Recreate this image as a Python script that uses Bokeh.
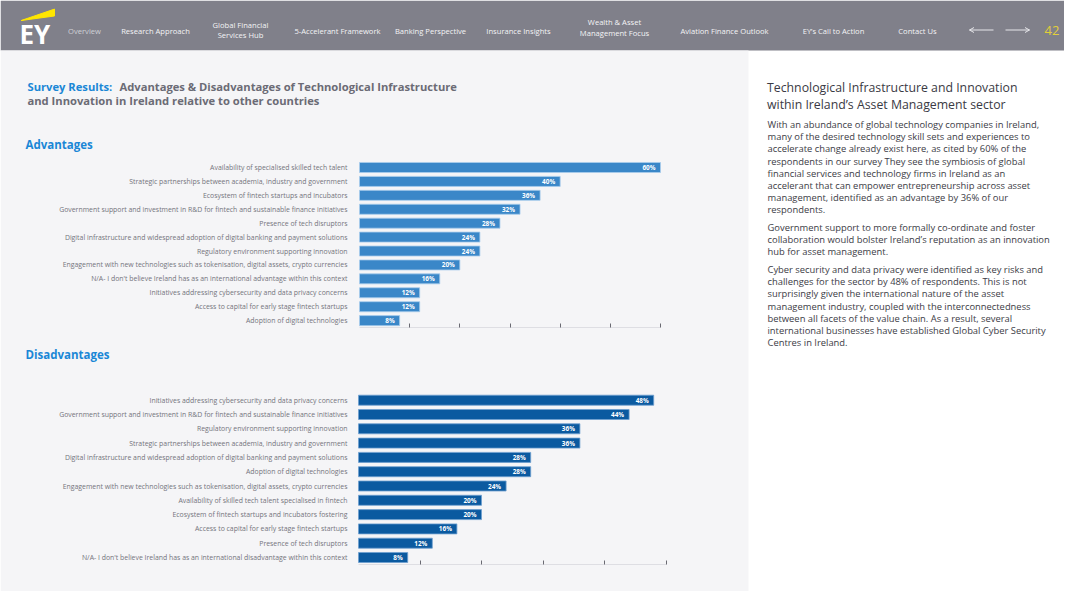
from bokeh.plotting import figure
from bokeh.models import Range1d, FixedTicker, ColumnDataSource, LinearAxis
from bokeh.core.properties import value
from bokeh.embed import file_html
from bokeh.resources import INLINE

FONT = "Open Sans"

# ---------------- data ----------------
adv_categories = [
    "Availability of specialised skilled tech talent",
    "Strategic partnerships between academia, industry and government",
    "Ecosystem of fintech startups and incubators",
    "Government support and investment in R&D for fintech and sustainable finance initiatives",
    "Presence of tech disruptors",
    "Digital infrastructure and widespread adoption of digital banking and payment solutions",
    "Regulatory environment supporting innovation",
    "Engagement with new technologies such as tokenisation, digital assets, crypto currencies",
    "N/A- I don't believe Ireland has as an international advantage within this context",
    "Initiatives addressing cybersecurity and data privacy concerns",
    "Access to capital for early stage fintech startups",
    "Adoption of digital technologies",
]
adv_values = [60, 40, 36, 32, 28, 24, 24, 20, 16, 12, 12, 8]

dis_categories = [
    "Initiatives addressing cybersecurity and data privacy concerns",
    "Government support and investment in R&D for fintech and sustainable finance initiatives",
    "Regulatory environment supporting innovation",
    "Strategic partnerships between academia, industry and government",
    "Digital infrastructure and widespread adoption of digital banking and payment solutions",
    "Adoption of digital technologies",
    "Engagement with new technologies such as tokenisation, digital assets, crypto currencies",
    "Availability of skilled tech talent specialised in fintech",
    "Ecosystem of fintech startups and incubators fostering",
    "Access to capital for early stage fintech startups",
    "Presence of tech disruptors",
    "N/A- I don't believe Ireland has as an international disadvantage within this context",
]
dis_values = [48, 44, 36, 36, 28, 28, 24, 20, 20, 16, 12, 8]

adv_ticks = [10, 20, 30, 40, 50, 60]
dis_ticks = [10, 20, 30, 40, 50]

nav_labels = [
    ["Overview"],
    ["Research Approach"],
    ["Global Financial", "Services Hub"],
    ["5-Accelerant Framework"],
    ["Banking Perspective"],
    ["Insurance Insights"],
    ["Wealth & Asset", "Management Focus"],
    ["Aviation Finance Outlook"],
    ["EY\u2019s Call to Action"],
    ["Contact Us"],
]
page_number = "42"

title_blue = "Survey Results:"
title_rest_1 = "Advantages & Disadvantages of Technological Infrastructure"
title_line_2 = "and Innovation in Ireland relative to other countries"
section_titles = ["Advantages", "Disadvantages"]

right_title = ["Technological Infrastructure and Innovation",
               "within Ireland\u2019s Asset Management sector"]
right_paragraphs = [
    ["With an abundance of global technology companies in Ireland,",
     "many of the desired technology skill sets and experiences to",
     "accelerate change already exist here, as cited by 60% of the",
     "respondents in our survey They see the symbiosis of global",
     "financial services and technology firms in Ireland as an",
     "accelerant that can empower entrepreneurship across asset",
     "management, identified as an advantage by 36% of our",
     "respondents."],
    ["Government support to more formally co-ordinate and foster",
     "collaboration would bolster Ireland\u2019s reputation as an innovation",
     "hub for asset management."],
    ["Cyber security and data privacy were identified as key risks and",
     "challenges for the sector by 48% of respondents. This is not",
     "surprisingly given the international nature of the asset",
     "management industry, coupled with the interconnectedness",
     "between all facets of the value chain.  As a result, several",
     "international businesses have established Global Cyber Security",
     "Centres in Ireland."],
]

# ---------------- layout / styles ----------------
W, H = 1064, 591
HEADER_BG = "#80808a"
LEFT_BG = "#f5f5f7"
BLUE_T = "#1a87d6"
GRAY_T = "#6b6b75"
ADV_FILL = "#3a87c8"
ADV_LINE = "#a9cdec"
DIS_FILL = "#0b5aa0"
DIS_LINE = "#6e9fcf"

nav_x = [84, 155, 240, 337, 430, 518, 614, 724, 833, 917]

# chart placement on the page (pixels): zero line, px per %, first bar centre, bar pitch
ADV = dict(x0=359, ppu=301 / 60, y0=167, pitch=13.92, axis_y=327, xmax=60)
DIS = dict(x0=358, ppu=6.15, y0=399.7, pitch=14.3, axis_y=564, xmax=50)

p = figure(width=W, height=H, x_range=Range1d(0, W), y_range=Range1d(H, 0),
           x_axis_location=None, y_axis_location=None, min_border=0,
           output_backend="svg", toolbar_location=None)
p.grid.visible = False
p.outline_line_color = None
p.background_fill_color = "#ffffff"
p.border_fill_color = "#ffffff"


def txt(x, y, s, size, color, bold=False, align="left", baseline="middle"):
    p.text(x=[x], y=[y], text=[s], text_font=value(FONT), text_font_size=size,
           text_color=color, text_font_style="bold" if bold else "normal",
           text_align=align, text_baseline=baseline)


# panels
p.quad(left=[0, 0], right=[W, 748], top=[0, 50], bottom=[50, H],
       fill_color=[HEADER_BG, LEFT_BG], line_color=None)

# ---------------- header ----------------
p.patch(x=[20.7, 54, 54], y=[20, 8.6, 15.5], fill_color="#ffe600", line_color="#ffe600")
txt(19, 33.5, "EY", "26px", "white", bold=True)
for lines, cx in zip(nav_labels, nav_x):
    if len(lines) == 1:
        ys = [30.5]
    else:
        ys = [24.5, 34.5] if cx < 300 else [21.5, 32]
    col = "#cfd0d6" if lines[0] == "Overview" else "#f4f4f6"
    for s, yy in zip(lines, ys):
        txt(cx, yy, s, "7.6px", col, align="center")
p.segment(x0=[969, 1005], y0=[29.5, 29.5], x1=[993, 1029], y1=[29.5, 29.5],
          line_color="#e6e6ea", line_width=1)
p.segment(x0=[969, 969, 1029, 1029], y0=[29.5, 29.5, 29.5, 29.5],
          x1=[973.5, 973.5, 1024.5, 1024.5], y1=[27, 32, 27, 32],
          line_color="#e6e6ea", line_width=1)
txt(1044, 30, page_number, "13px", "#e2cf3a")

# ---------------- left titles ----------------
txt(27, 86, title_blue, "11.2px", BLUE_T, bold=True)
txt(119, 86, title_rest_1, "11.2px", GRAY_T, bold=True)
txt(27, 100, title_line_2, "11.2px", GRAY_T, bold=True)
txt(25, 143.5, section_titles[0], "11.5px", BLUE_T, bold=True)
txt(25, 353.5, section_titles[1], "11.5px", BLUE_T, bold=True)


def bar_chart(name, cats, vals, ticks, geo, fill, line, bar_h, standoff):
    ppu, x0 = geo["ppu"], geo["x0"]
    p.extra_x_ranges[name + "_x"] = Range1d(-x0 / ppu, (W - x0) / ppu)
    y0, pitch = geo["y0"], geo["pitch"]
    p.extra_y_ranges[name + "_y"] = Range1d((H - y0) / pitch, -y0 / pitch)
    pos = list(range(len(cats)))
    src = ColumnDataSource(dict(pos=pos, cat=cats, val=vals, zero=[0] * len(vals),
                                lbl=[f"{v}%" for v in vals]))
    kw = dict(x_range_name=name + "_x", y_range_name=name + "_y", source=src)
    p.hbar(y="pos", right="val", left="zero", height=bar_h,
           fill_color=fill, line_color=line, line_width=0.8, **kw)
    p.text(x="val", y="pos", text="lbl", x_offset=-5,
           text_align="right", text_baseline="middle", text_color="white",
           text_font_size="6.4px", text_font_style="bold", text_font=value(FONT), **kw)
    p.text(x="zero", y="pos", text="cat", x_offset=-standoff,
           text_align="right", text_baseline="middle", text_color="#74747c",
           text_font_size="6.9px", text_font=value(FONT), **kw)
    ax = LinearAxis(x_range_name=name + "_x", fixed_location=geo["axis_y"],
                    bounds=(0, geo["xmax"]), ticker=FixedTicker(ticks=ticks))
    ax.major_label_text_font_size = "0px"
    ax.major_label_text_alpha = 0
    ax.major_label_standoff = 0
    ax.axis_line_color = "#dedee3"
    ax.major_tick_line_color = "#6a6a72"
    ax.major_tick_in = 4
    ax.major_tick_out = 0
    ax.minor_tick_line_color = None
    p.add_layout(ax, "below")


bar_chart("adv", adv_categories, adv_values, adv_ticks, ADV, ADV_FILL, ADV_LINE, 0.72, 12)
bar_chart("dis", dis_categories, dis_values, dis_ticks, DIS, DIS_FILL, DIS_LINE, 0.70, 11)

# ---------------- right text panel ----------------
for i, s in enumerate(right_title):
    txt(766.5, 87 + 16.5 * i, s, "12.3px", "#3a3a44")
para_starts = [124, 227, 269]
for start, lines in zip(para_starts, right_paragraphs):
    for i, s in enumerate(lines):
        txt(767, start + 12.2 * i, s, "9.4px", "#3c3c46")

open("out.html", "w").write(file_html(p, INLINE))
